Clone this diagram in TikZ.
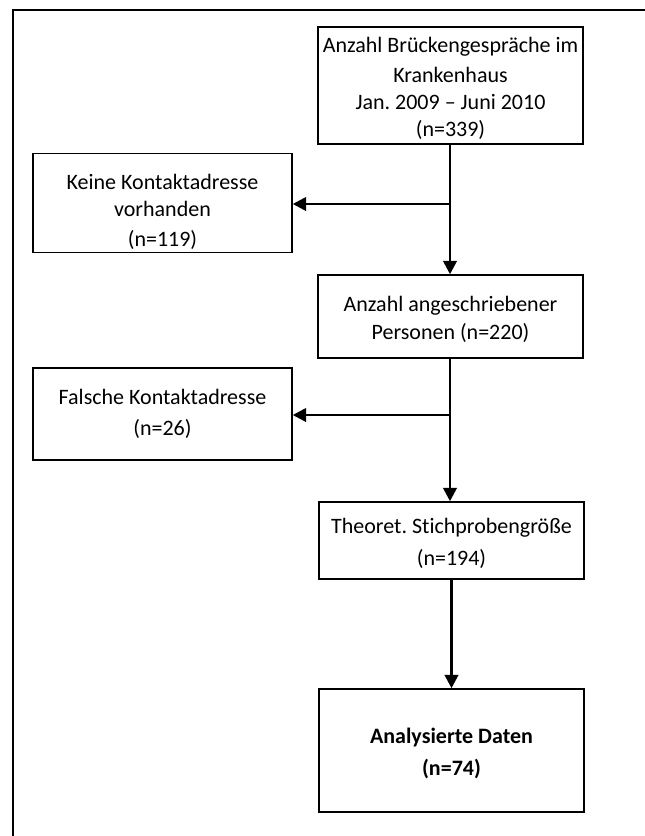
\documentclass[tikz,border=0pt]{standalone}
\usepackage{fontspec}
\setmainfont{Carlito}[Ligatures=NoCommon]
\frenchspacing
\usetikzlibrary{arrows.meta,positioning}

\tikzset{
  stepbox/.style={draw, line width=1.1pt, align=center, inner sep=2pt,
    font=\fontsize{16.5}{20.5}\selectfont},
  mainbox/.style={stepbox, minimum width=198.75pt},
  sidebox/.style={stepbox, minimum width=194.25pt},
  flow/.style={line width=2pt, -{Triangle[length=10pt,width=10pt]}},
}

\begin{document}
\begin{tikzpicture}[x=0.75pt,y=-0.75pt]
    \useasboundingbox (0,0) rectangle (645,836);
    % frame
    \draw[line width=1.5pt] (645,10) -- (13,10) -- (13,836);
    %%
    \node[mainbox, minimum height=87.75pt] (n339) at (450.5,85.5)
      {\rule{0pt}{16pt}Anzahl Brückengespräche im\\[2pt] Krankenhaus\\ Jan. 2009 – Juni 2010\\ (n=339)};
    \node[sidebox, minimum height=69pt] (keine) at (162.5,203)
      {\rule{0pt}{25pt}Keine Kontaktadresse\\ vorhanden\\[2pt] (n=119)};
    \node[mainbox, minimum height=62.25pt] (n220) at (450.5,316.5)
      {\rule{0pt}{16pt}Anzahl angeschriebener\\ Personen (n=220)};
    \node[sidebox, minimum height=69pt] (falsche) at (162.5,414)
      {Falsche Kontaktadresse\\[3pt] (n=26)};
    \node[mainbox, minimum height=57.75pt] (n194) at (451.5,540.5)
      {\rule{0pt}{16pt}Theoret. Stichprobengröße\\[4pt] (n=194)};
    \node[mainbox, minimum height=92.25pt, font=\fontsize{16.5}{20.5}\selectfont\bfseries] (daten) at (451.5,750.5)
      {\rule{0pt}{16pt}Analysierte Daten\\[3pt] (n=74)};
    %%
    \coordinate (b1) at (450,204);
    \coordinate (b2) at (450,415);
    \draw[flow] (n339.south -| b1) -- (n220.north -| b1);
    \draw[flow] (b1) -- (b1 -| keine.east);
    \draw[flow] (n220.south -| b2) -- (n194.north -| b2);
    \draw[flow] (b2) -- (b2 -| falsche.east);
    \draw[flow] (n194) -- (daten);
\end{tikzpicture}
\end{document}
